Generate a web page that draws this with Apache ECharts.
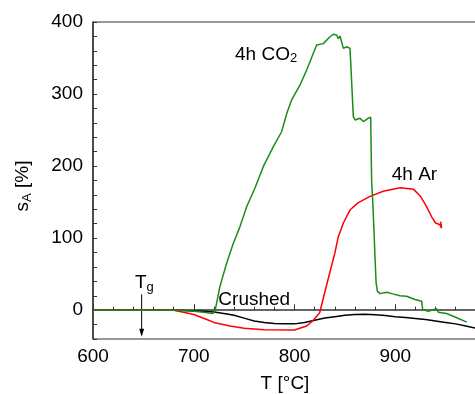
<!DOCTYPE html>
<html><head><meta charset="utf-8">
<script src="https://cdn.jsdelivr.net/npm/echarts@6/dist/echarts.min.js"></script>
<style>html,body{margin:0;padding:0;background:#fff}#c{width:475px;height:394px}</style>
</head><body><div id="c"></div>
<script>
// ---- data ----
const xTickLabels = [600, 700, 800, 900];
const yTickLabels = [0, 100, 200, 300, 400];

const crushedT = [600,620,640,660,680,690,700,710,720,730,740,750,760,770,780,790,800,810,820,830,840,850,860,870,880,890,900,910,920,930,940,950,960,970,980,1000];
const crushedV = [0,0,0,0,0,-0.5,-1,-1.5,-2.5,-4.5,-7,-11,-15,-17,-18.5,-19,-19,-17,-14,-11,-9,-7,-6,-5.5,-6.5,-7.5,-9,-10,-11.5,-13,-15,-17,-19,-22,-25,-31];

const arT = [600,620,640,660,680,690,700,713,720,736,750,770,800,812,818,825,829,835,840,843.5,848.5,855,863,875,888,905,918,925,931,936,940,944,946,945];
const arV = [0,0,0,0,0,-3,-6,-13,-17,-22,-25,-27,-27.5,-22,-15,-3.6,19,52,79,102,121,139,149,158,165,170,168,158,144,130,121,119,114,123];

const co2T = [600,620,640,660,680,690,700,710,719,721,726,732.7,739.3,745.9,752.6,760.8,769.1,779,787.3,792.3,797.2,805.5,812.1,818.7,822,828.6,835.2,838.5,841.8,843.5,845.2,846.8,848.5,851.8,855.1,856.8,858.4,860.1,865,868.3,870,873.3,875.6,876.6,877.6,879,880,881,882.3,885,891.5,896.5,904.7,911.3,913,919.6,926.2,927.2,932.8,941,942.7,951,961,971];
const co2V = [0,0,0,0,0,-0.5,-1.5,-3,-4.5,-2,33,65.6,93,116,144,169.5,199.5,227,248,273,292,312.6,333.4,356.5,368,370,379.5,383,381.9,377,380.5,378.6,363.4,365.7,363.4,361,268.7,264,266.5,261.8,264,266.5,267.8,176.5,153,107,70,38,26,23,25,23,20,19.4,21.7,14.8,12.5,1,-1.4,1.9,-2.8,-4.6,-10.5,-16.6];

// ---- chart ----
const FONT = '"Liberation Sans", Arial, sans-serif';
const zip = (a, b) => a.map((t, i) => [t, b[i]]);
const chart = echarts.init(document.getElementById('c'), null, {renderer: 'canvas'});

chart.setOption({
  animation: false,
  grid: {left: 93, top: 22, width: 403, height: 317, show: true, borderColor: '#333', borderWidth: 1,
    containLabel: false, outerBoundsMode: 'none'},
  xAxis: {
    type: 'value', min: 600, max: 1000, interval: 100,
    axisLine: {lineStyle: {color: '#333', width: 1.5}},
    axisTick: {inside: true, length: 6, lineStyle: {color: '#333'}},
    minorTick: {show: true, splitNumber: 5, length: 3.5, lineStyle: {color: '#333'}},
    splitLine: {show: false},
    axisLabel: {fontSize: 19, color: '#000', fontFamily: FONT, margin: 8,
      formatter: v => xTickLabels.includes(v) ? String(v) : ''}
  },
  yAxis: {
    type: 'value', min: -40, max: 400, interval: 20,
    axisLine: {show: true, lineStyle: {color: '#333', width: 1.5}},
    axisTick: {show: true, inside: true, length: 4, lineStyle: {color: '#333'}},
    splitLine: {show: false},
    axisLabel: {fontSize: 19, color: '#000', fontFamily: FONT, margin: 10,
      formatter: v => yTickLabels.includes(v) ? String(v) : ''}
  },
  series: [
    {name: 'Crushed', type: 'line', data: zip(crushedT, crushedV), showSymbol: false, lineStyle: {color: '#000', width: 1.5}, z: 2},
    {name: '4h Ar', type: 'line', data: zip(arT, arV), showSymbol: false, lineStyle: {color: '#ff0000', width: 1.5}, z: 3},
    {name: '4h CO2', type: 'line', data: zip(co2T, co2V), showSymbol: false, lineStyle: {color: '#1a8c1a', width: 1.5}, z: 4}
  ]
});

const P = (t, v) => chart.convertToPixel({gridIndex: 0}, [t, v]);
const txt = (pos, text, rich, extra) => Object.assign({
  type: 'text', x: pos[0], y: pos[1],
  style: Object.assign({text: text, fill: '#000', font: '19px ' + FONT, align: 'left', verticalAlign: 'middle', rich: rich}, extra || {})
});
const subRich = {
  a: {fontSize: 19, fontFamily: FONT, fill: '#000', color: '#000'},
  s: {fontSize: 13, fontFamily: FONT, fill: '#000', color: '#000', padding: [9, 0, 0, 0]}
};
const aTop = P(648.3, 22), aTip = P(648.3, -37);
chart.setOption({
  graphic: [
    txt(P(741, 355), '{a|4h CO}{s|2}', subRich),
    txt(P(896.5, 188), '4h Ar'),
    txt(P(724.4, 14), 'Crushed'),
    txt(P(641.7, 38), '{a|T}{s|g}', subRich),
    {type: 'line', shape: {x1: aTop[0], y1: aTop[1], x2: aTip[0], y2: aTip[1] - 6}, style: {stroke: '#000', lineWidth: 1}},
    {type: 'polygon', shape: {points: [[aTip[0] - 2.5, aTip[1] - 8], [aTip[0] + 2.5, aTip[1] - 8], [aTip[0], aTip[1]]]}, style: {fill: '#000'}},
    {type: 'text', x: 285, y: 384, style: {text: 'T [°C]', font: '19px ' + FONT, fill: '#000', align: 'center', verticalAlign: 'middle'}},
    {type: 'text', x: 23, y: 186, rotation: Math.PI / 2,
      style: {text: '{a|s}{s|A}{a| [%]}', align: 'center', verticalAlign: 'middle', rich: subRich}}
  ]
});
</script></body></html>
